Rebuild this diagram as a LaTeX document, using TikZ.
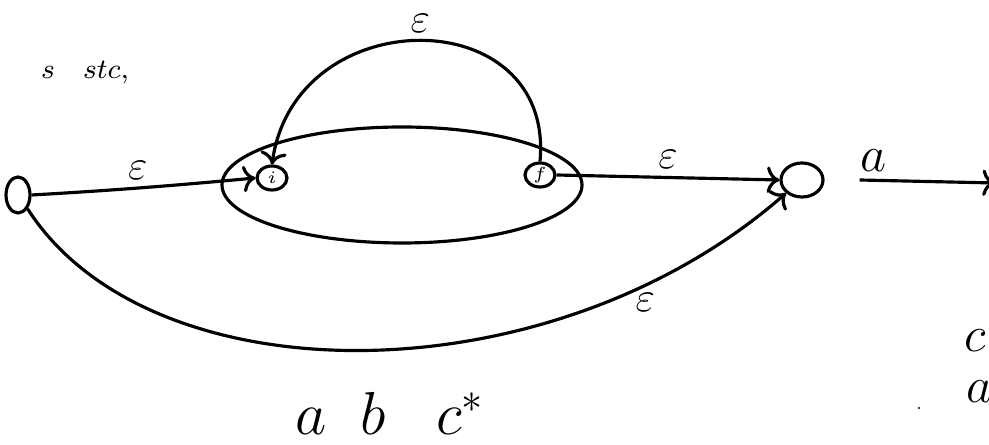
\documentclass[tikz,border=0pt]{standalone}
\usepackage{amsmath}
\usepackage{tikz}
\usetikzlibrary{arrows.meta,positioning,shapes.geometric}

\begin{document}
\begin{tikzpicture}[line width=0.9pt, every node/.style={font=\large},
    state/.style={draw, ellipse, inner sep=0pt, line width=0.9pt},
    lab/.style={inner sep=2pt}]
  \useasboundingbox (0,0) rectangle (9.89,4.45);
  \node[state, minimum width=0.24cm, minimum height=0.36cm] (s0) at (0.18,2.50) {};
  \node[state, minimum width=3.6cm, minimum height=1.16cm] (blob) at (4.02,2.60) {};
  \node[state, minimum width=0.30cm, minimum height=0.24cm, font=\tiny] (i) at (2.72,2.67) {$i$};
  \node[state, minimum width=0.30cm, minimum height=0.24cm, font=\tiny] (f) at (5.40,2.70) {$f$};
  \node[state, minimum width=0.42cm, minimum height=0.34cm] (s3) at (8.02,2.65) {};
  \coordinate (cut) at (9.95,2.62);
  \draw[->] (s0.east) .. controls (1.2,2.55) and (1.8,2.60) .. (i.west)
    node[lab, pos=0.45, above] {$\varepsilon$};
  \draw[->] (f.north) .. controls (5.55,4.45) and (2.95,4.45) .. (i.north)
    node[lab, midway, above] {$\varepsilon$};
  \draw[->] (f.east) -- (s3.west) node[lab, midway, above] {$\varepsilon$};
  \draw[->] (s0.south east) .. controls (1.5,0.45) and (5.5,0.45) .. (s3.south west)
    node[lab, pos=0.82, below] {$\varepsilon$};
  \draw[->] ([xshift=0.35cm]s3.east) -- (cut) node[lab, pos=0.1, above, font=\Large] {$a$};
  \node[font=\footnotesize] (hdr) at (0.85,3.72) {$s\quad stc,$};
  \node[font=\LARGE] (rx) at (3.90,0.32) {$a\;\;b\;\;\;c^{*}$};
  \node[font=\Large, inner sep=0pt] (c1) at (9.75,1.04) {$c$};
  \node[font=\Large, inner sep=0pt] (a1) at (9.80,0.53) {$a$};
  \fill (9.19,0.37) circle (0.012);
\end{tikzpicture}
\end{document}
